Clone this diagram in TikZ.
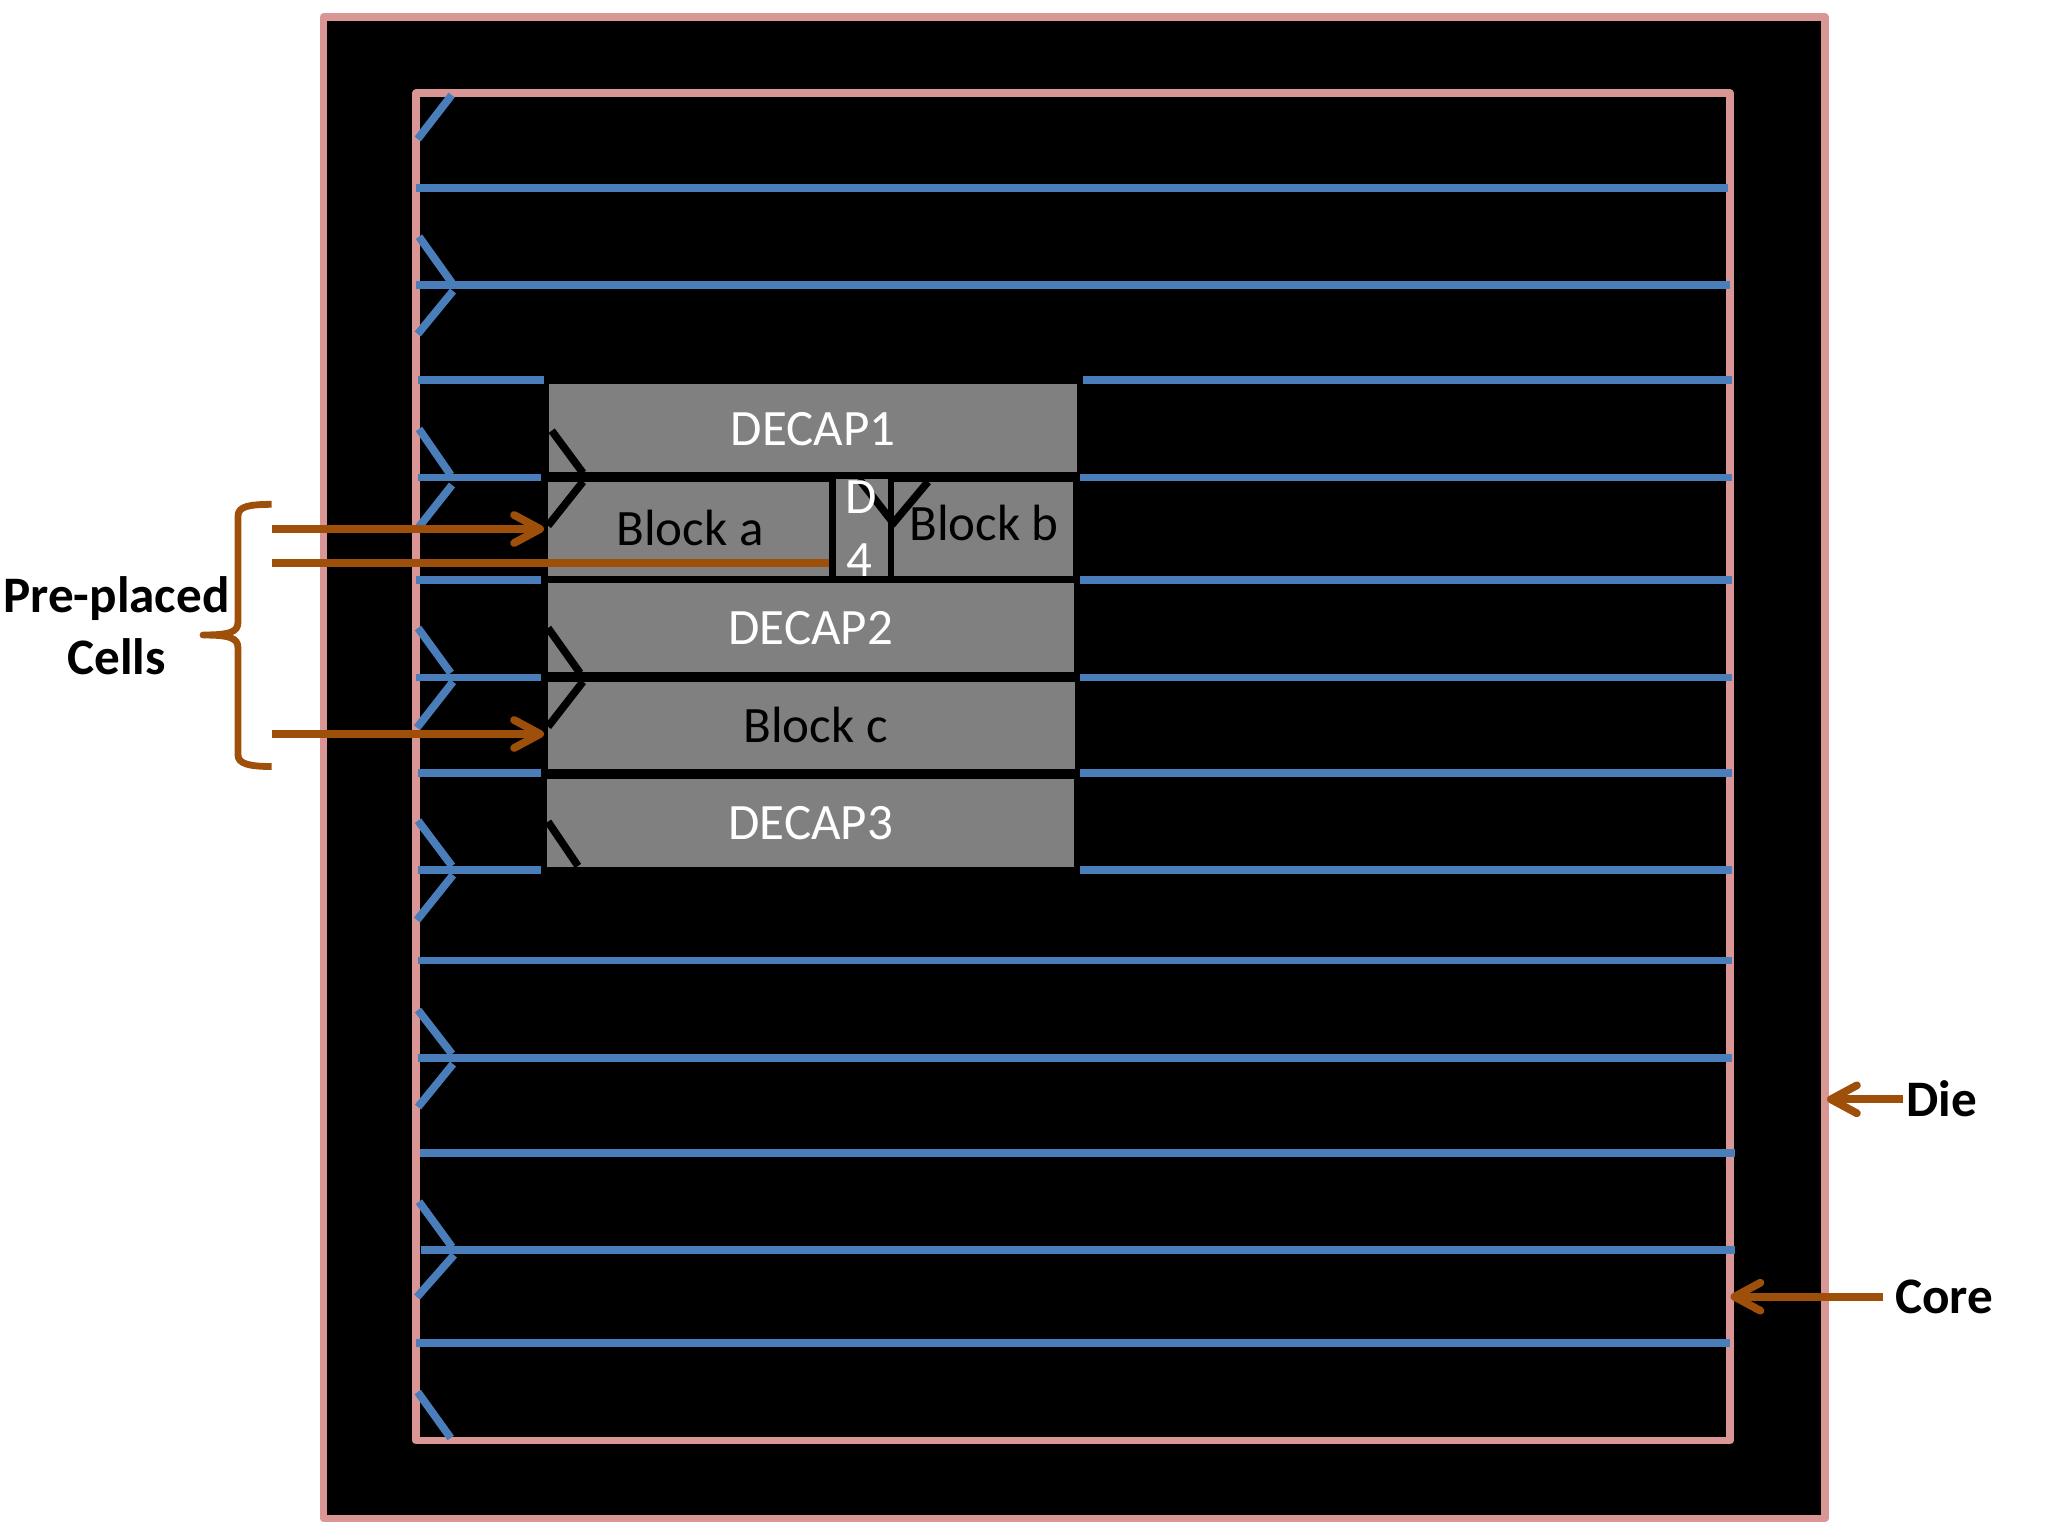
\documentclass[tikz,border=0pt]{standalone}
\usepackage{fontspec}
\setmainfont{Carlito}
\usetikzlibrary{arrows.meta}
\definecolor{pinkline}{HTML}{D99694}
\definecolor{blueline}{HTML}{4A7EBB}
\definecolor{brownline}{HTML}{9E4F0A}
\definecolor{cellgray}{HTML}{808080}
\tikzset{
  x=0.5pt,y=-0.5pt,
  boundary/.style={draw=pinkline,line width=3.6pt,line join=round},
  rail/.style={draw=blueline,line width=3.9pt},
  railtick/.style={draw=blueline,line width=3.9pt},
  celltick/.style={draw=black,line width=3.8pt},
  cell/.style={fill=cellgray,draw=none},
  pointer/.style={draw=brownline,line width=3.9pt,-{Straight Barb[length=13pt,width=14pt,round]}},
  plainpointer/.style={draw=brownline,line width=3.9pt},
  celltext/.style={anchor=base,inner sep=0pt,font=\fontsize{25.5}{30}\selectfont},
  whitetext/.style={celltext,text=white},
  blacktext/.style={celltext,text=black},
  labeltext/.style={anchor=base,inner sep=0pt,font=\fontsize{25.6}{30}\selectfont\bfseries,text=black},
}
\begin{document}
\begin{tikzpicture}
\useasboundingbox (0,0) rectangle (2048,1536);
% die and core
\fill[black] (323.5,17) rectangle (1825,1518.5);
\draw[boundary] (323.5,17) rectangle (1825,1518.5);
\draw[boundary] (416,93) rectangle (1730,1440.7);
% rails
\draw[rail] (416,188) -- (1728,188);
\draw[rail] (416,285) -- (1730,285);
\draw[rail] (418,380) -- (1732,380);
\draw[rail] (418,477.5) -- (1732,477.5);
\draw[rail] (416,580) -- (1732,580);
\draw[rail] (416,677.5) -- (1732,677.5);
\draw[rail] (418,772.7) -- (1732,772.7);
\draw[rail] (418,870) -- (1732,870);
\draw[rail] (418,960.5) -- (1732,960.5);
\draw[rail] (418,1058) -- (1732,1058);
\draw[rail] (420,1153) -- (1735,1153);
\draw[rail] (421,1250.3) -- (1735,1250.3);
\draw[rail] (416,1343.3) -- (1730,1343.3);
% rail ticks
\draw[railtick] (451.7,95) -- (417.7,139);
\draw[railtick] (419,236.7) -- (452,283);
\draw[railtick] (453,291) -- (417.7,334);
\draw[railtick] (419,429) -- (450.7,475);
\draw[railtick] (452,485) -- (417.3,529);
\draw[railtick] (418,628) -- (450.7,673);
\draw[railtick] (453,681.7) -- (417,727.7);
\draw[railtick] (418,820.7) -- (452,866);
\draw[railtick] (453,875) -- (417,920);
\draw[railtick] (418,1010) -- (452,1054);
\draw[railtick] (453,1064) -- (418,1107);
\draw[railtick] (419,1201.7) -- (452,1247);
\draw[railtick] (454,1255) -- (417,1297);
\draw[railtick] (417.7,1392) -- (450.7,1438);
% black block area
\fill[black] (544,374) rectangle (1083,386);
\fill[black] (541,386) rectangle (1080,876);
% cells
\fill[cell] (549,384) rectangle (1076.7,471.7);
\fill[cell] (548,481.7) rectangle (829,576);
\fill[cell] (836,479) rectangle (887.7,576);
\fill[cell] (894,481.7) rectangle (1072.7,576);
\fill[cell] (547.7,583) rectangle (1074,671.7);
\fill[cell] (547.7,681.7) rectangle (1075,769);
\fill[cell] (547,778.7) rectangle (1074,866.7);
% cell ticks
\draw[celltick] (551.7,430.7) -- (583,473);
\draw[celltick] (583,481.7) -- (548,525.7);
\draw[celltick] (548,628) -- (580,673);
\draw[celltick] (583,681.7) -- (548,726.7);
\draw[celltick] (548,821.7) -- (578,866);
\draw[celltick] (859,479) -- (891,520);
\draw[celltick] (928,481.7) -- (891.7,525);
% cell text
\node[whitetext] (decapone) at (813,445) {DECAP1};
\node[blacktext] (blocka) at (690,545) {Block a};
\node[whitetext] (dfour) at (861,513) {D};
\node[whitetext] (dfourb) at (859,576) {4};
\node[blacktext] (blockb) at (984,540) {Block b};
\node[whitetext] (decaptwo) at (810.7,644.3) {DECAP2};
\node[blacktext] (blockc) at (815.5,742.7) {Block c};
\node[whitetext] (decapthree) at (810.7,839.3) {DECAP3};
% labels
\node[labeltext] (preplaced) at (116.5,612.5) {Pre-placed};
\node[labeltext] (cells) at (116.5,674.5) {Cells};
\node[labeltext] (dielabel) at (1942,1116) {Die};
\node[labeltext] (corelabel) at (1944,1313.5) {Core};
% brace
\draw[brownline,line width=3.4pt,line join=round]
  (271.7,504.3) .. controls (250,504.5) and (238,506) .. (238,516)
  -- (238,622) .. controls (238,632) and (230,635) .. (203,635)
  .. controls (230,635) and (238,638) .. (238,648)
  -- (238,755) .. controls (238,764) and (250,766.5) .. (271.7,766.5);
% pointers
\coordinate (aFrom) at (271.7,529);
\coordinate (aTo) at (544,529);
\coordinate (dFrom) at (271.7,563.3);
\coordinate (dTo) at (829,563.3);
\coordinate (cFrom) at (271.7,734);
\coordinate (cTo) at (544,734);
\coordinate (dieFrom) at (1903,1099.3);
\coordinate (dieTo) at (1827,1099.3);
\coordinate (coreFrom) at (1883,1296.7);
\coordinate (coreTo) at (1730.5,1296.7);
\draw[pointer] (aFrom) -- (aTo);
\draw[plainpointer] (dFrom) -- (dTo);
\draw[pointer] (cFrom) -- (cTo);
\draw[pointer] (dieFrom) -- (dieTo);
\draw[pointer] (coreFrom) -- (coreTo);
\end{tikzpicture}
\end{document}
